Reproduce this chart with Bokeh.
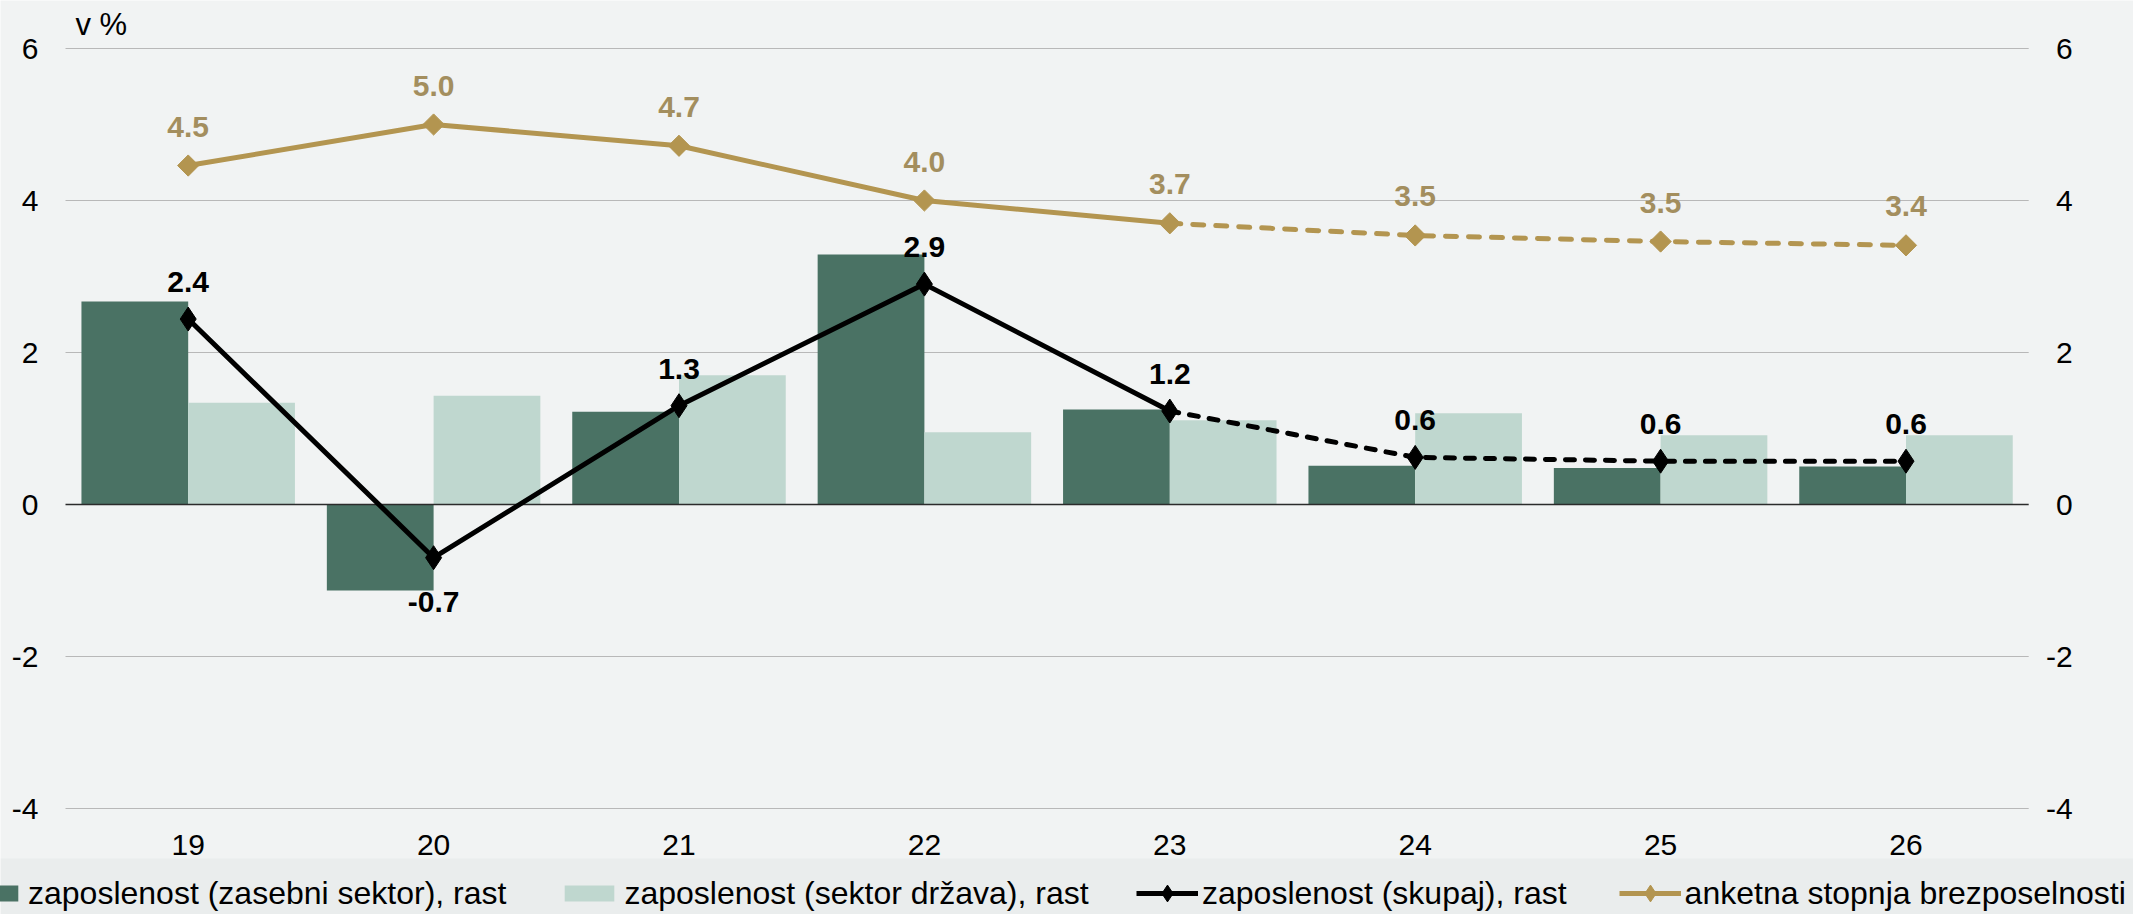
import numpy as np
from bokeh.plotting import figure
from bokeh.models import ColumnDataSource, Range1d, Legend, LegendItem
from bokeh.transform import dodge
from bokeh.core.properties import value
from bokeh.embed import file_html
from bokeh.resources import INLINE

# ---------------- data ----------------
years = ["19", "20", "21", "22", "23", "24", "25", "26"]
private_growth = [2.67, -1.13, 1.22, 3.29, 1.25, 0.51, 0.48, 0.50]
public_growth = [1.34, 1.43, 1.70, 0.95, 1.11, 1.20, 0.91, 0.91]
total_growth = [2.44, -0.70, 1.30, 2.90, 1.23, 0.62, 0.57, 0.57]
unemployment = [4.46, 5.00, 4.72, 4.00, 3.70, 3.54, 3.46, 3.41]
forecast_start = 4  # from "23" on the lines are dashed
y_ticks = [-4, -2, 0, 2, 4, 6]
y_tick_labels = ["-4", "-2", "0", "2", "4", "6"]
unit_label = "v %"

series_names = ["zaposlenost (zasebni sektor), rast",
                "zaposlenost (sektor država), rast",
                "zaposlenost (skupaj), rast",
                "anketna stopnja brezposelnosti"]

# ---------------- style ----------------
FONT = "Liberation Sans"
BG = "#f1f3f3"
BAND = "#eaeded"
DARK = "#4a7264"
LIGHT = "#bfd7cf"
GOLD = "#b39550"
GOLD_TXT = "#a38e5e"
GRID = "#b8b8b8"
ZERO = "#2b2b2b"
BAR_W = 0.435

W, H = 2133, 914
# plotting area inside the canvas (pixels)
CAT_PX = 245.4          # width of one category
FIRST_CAT_PX = 187.7    # centre of first category from the canvas left
TOP_PX, BOTTOM_PX = 48, 808
BAND_TOP_PX = 858       # top of the legend band

n = len(years)
idx = list(range(n))
px_per_unit = (BOTTOM_PX - TOP_PX) / (y_ticks[-1] - y_ticks[0])
x_start = -FIRST_CAT_PX / CAT_PX
x_end = (W - FIRST_CAT_PX) / CAT_PX
y_end = y_ticks[-1] + TOP_PX / px_per_unit
y_start = y_ticks[0] - (H - BOTTOM_PX) / px_per_unit
y_band = y_end - BAND_TOP_PX / px_per_unit

p = figure(width=W, height=H,
           x_range=Range1d(x_start, x_end), y_range=Range1d(y_start, y_end),
           x_axis_location=None, y_axis_location=None,
           output_backend="svg", toolbar_location=None, min_border=0,
           background_fill_color=BG, border_fill_color=BG,
           outline_line_color=None)
p.xgrid.visible = False
p.ygrid.visible = False
p.extra_y_ranges = {"right": Range1d(y_start, y_end)}

# ---- gridlines (from the tick list) ----
left_edge, right_edge = -0.5, n - 0.5
grid_src = ColumnDataSource(dict(
    y=[t for t in y_ticks if t != 0],
    x0=[left_edge] * (len(y_ticks) - 1), x1=[right_edge] * (len(y_ticks) - 1)))
p.segment(x0="x0", x1="x1", y0="y", y1="y", source=grid_src,
          line_color=GRID, line_width=1)

# ---- bars ----
src = ColumnDataSource(dict(
    x=idx, private=private_growth, public=public_growth,
    total=total_growth, unemp=unemployment,
    tl=[f"{v:.1f}" for v in total_growth],
    ul=[f"{v:.1f}" for v in unemployment],
    toff=[44 if v < 0 else -37 for v in total_growth],
    uoff=[-39 for _ in unemployment]))

r_priv = p.vbar(x=dodge("x", -BAR_W / 2, range=p.x_range), top="private", width=BAR_W,
                source=src, fill_color=DARK, line_color=None)
r_pub = p.vbar(x=dodge("x", BAR_W / 2, range=p.x_range), top="public", width=BAR_W,
               source=src, fill_color=LIGHT, line_color=None)

# zero line
p.segment(x0=[left_edge], x1=[right_edge], y0=[0], y1=[0], line_color=ZERO, line_width=1.5)

# ---- lines ----
def part(a, b):
    return ColumnDataSource(dict(x=idx[a:b], total=total_growth[a:b], unemp=unemployment[a:b]))

solid_src = part(0, forecast_start + 1)
dash_src = part(forecast_start, n)

r_tot = p.line("x", "total", source=solid_src, line_color="black", line_width=5)
p.line("x", "total", source=dash_src, line_color="black", line_width=5,
       line_dash="9 11", line_cap="round")
r_tot_m = p.scatter("x", "total", source=src, marker="diamond", size=24,
                    fill_color="black", line_color="black")

r_un = p.line("x", "unemp", source=solid_src, line_color=GOLD, line_width=5,
              y_range_name="right")
p.line("x", "unemp", source=dash_src, line_color=GOLD, line_width=5,
       line_dash="11 12", line_cap="round", y_range_name="right")
# diamond (used by the legend), covered by the rotated square below
r_un_leg = p.scatter("x", "unemp", source=src, marker="diamond", size=14,
                     fill_color=GOLD, line_color=GOLD, y_range_name="right")
p.scatter("x", "unemp", source=src, marker="square", angle=np.pi / 4, size=15,
          fill_color=GOLD, line_color=GOLD, y_range_name="right")

# ---- data labels ----
p.text("x", "total", text="tl", source=src, y_offset="toff",
       text_align="center", text_baseline="middle",
       text_font=value(FONT), text_font_style="bold", text_font_size="30px",
       text_color="black")
p.text("x", "unemp", text="ul", source=src, y_offset="uoff", y_range_name="right",
       text_align="center", text_baseline="middle",
       text_font=value(FONT), text_font_style="bold", text_font_size="30px",
       text_color=GOLD_TXT)

# ---- axis tick labels ----
tick_src = ColumnDataSource(dict(
    y=y_ticks, lab=y_tick_labels,
    xl=[left_edge] * len(y_ticks), xr=[right_edge] * len(y_ticks)))
p.text("xl", "y", text="lab", source=tick_src, x_offset=-27,
       text_align="right", text_baseline="middle",
       text_font=value(FONT), text_font_size="30px", text_color="black")
p.text("xr", "y", text="lab", source=tick_src, x_offset=44, y_range_name="right",
       text_align="right", text_baseline="middle",
       text_font=value(FONT), text_font_size="30px", text_color="black")

cat_src = ColumnDataSource(dict(x=idx, y=[y_ticks[0]] * n, lab=years))
p.text("x", "y", text="lab", source=cat_src, y_offset=36,
       text_align="center", text_baseline="alphabetic",
       text_font=value(FONT), text_font_size="30px", text_color="black")

# unit label
p.text(x=[left_edge], y=[y_ticks[-1]], text=[unit_label], x_offset=10, y_offset=-24,
       text_align="left", text_baseline="alphabetic",
       text_font=value(FONT), text_font_size="31px", text_color="black")

# ---- legend band ----
p.quad(left=[x_start], right=[x_end], top=[y_band], bottom=[y_start],
       fill_color=BAND, line_color=None)

# ---- legends ----
common = dict(orientation="horizontal", glyph_width=62, label_standoff=4, spacing=52,
              padding=0, margin=0, label_height=62, background_fill_alpha=0.0,
              border_line_color=None, label_text_font=FONT, label_text_font_size="32px",
              label_text_color="black")

legend_bars = Legend(items=[
    LegendItem(label=series_names[0], renderers=[r_priv]),
    LegendItem(label=series_names[1], renderers=[r_pub]),
], location=(-38, -10), glyph_height=20, **common)
p.add_layout(legend_bars, "center")

legend_lines = Legend(items=[
    LegendItem(label=series_names[2], renderers=[r_tot, r_tot_m]),
    LegendItem(label=series_names[3], renderers=[r_un, r_un_leg]),
], location=(1136, -10), glyph_height=42, **common)
p.add_layout(legend_lines, "center")

open("out.html", "w").write(file_html(p, INLINE))
